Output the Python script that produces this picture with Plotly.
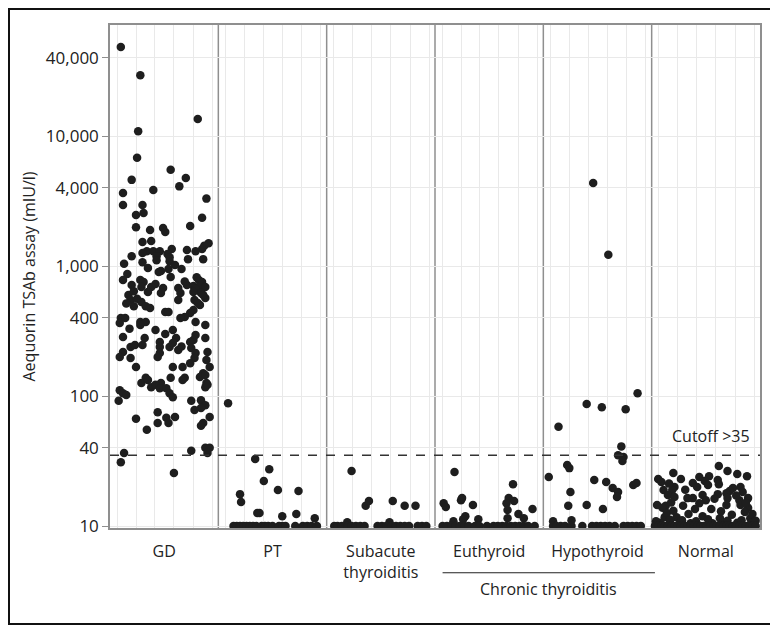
import plotly.graph_objects as go

# group labels on the x axis (centres at 0.5 ... 5.5)
categories = ["GD", "PT", "Subacute<br>thyroiditis", "Euthyroid", "Hypothyroid", "Normal"]

# (position inside the group 0..1, TSAb value in mIU/l)
gd_points = [
    (0.10, 48400), (0.28, 29400), (0.81, 13500), (0.26, 10900), (0.25, 6800),
    (0.56, 5500), (0.20, 4600), (0.70, 4750), (0.64, 4100), (0.12, 3650),
    (0.40, 3850), (0.89, 3300), (0.12, 2950), (0.30, 2950), (0.31, 2560),
    (0.24, 2470), (0.85, 2350), (0.24, 1990), (0.37, 1890), (0.49, 1960),
    (0.51, 1830), (0.74, 2030), (0.30, 1530), (0.38, 1560), (0.91, 1500),
    (0.87, 1430), (0.85, 1350), (0.57, 1350), (0.34, 1300), (0.40, 1300),
    (0.46, 1300), (0.53, 1240), (0.30, 1260), (0.20, 1190), (0.43, 1190),
    (0.71, 1330), (0.79, 1300), (0.55, 1170), (0.43, 1110), (0.72, 1130),
    (0.86, 1130), (0.55, 1090), (0.13, 1040), (0.30, 1070), (0.35, 966),
    (0.47, 916), (0.45, 899), (0.54, 948), (0.66, 948), (0.16, 868),
    (0.56, 822), (0.12, 780), (0.28, 780), (0.31, 753), (0.20, 714),
    (0.42, 727), (0.49, 677), (0.71, 714), (0.82, 780), (0.85, 753),
    (0.77, 702), (0.83, 702), (0.79, 665), (0.29, 689), (0.38, 689),
    (0.63, 677), (0.88, 689), (0.17, 598), (0.19, 548), (0.22, 490),
    (0.15, 515), (0.35, 631), (0.47, 620), (0.29, 528), (0.33, 490),
    (0.37, 475), (0.65, 620), (0.63, 548), (0.78, 548), (0.88, 567),
    (0.84, 620), (0.77, 631), (0.83, 501), (0.77, 459), (0.74, 435),
    (0.69, 405), (0.65, 398), (0.51, 443), (0.54, 443), (0.10, 398),
    (0.14, 398), (0.09, 364), (0.28, 371), (0.33, 371), (0.28, 352),
    (0.79, 371), (0.88, 352), (0.42, 322), (0.58, 322), (0.12, 284),
    (0.32, 279), (0.46, 260), (0.61, 279), (0.79, 295), (0.77, 270),
    (0.74, 260), (0.88, 279), (0.19, 238), (0.23, 247), (0.30, 247),
    (0.46, 238), (0.46, 214), (0.55, 238), (0.63, 226), (0.58, 256),
    (0.75, 234), (0.79, 214), (0.90, 218), (0.12, 218), (0.09, 200),
    (0.19, 196), (0.44, 200), (0.78, 196), (0.74, 179), (0.89, 189),
    (0.24, 167), (0.58, 167), (0.67, 167), (0.92, 167), (0.86, 150),
    (0.33, 138), (0.56, 138), (0.69, 138), (0.83, 140), (0.88, 145),
    (0.29, 126), (0.47, 126), (0.89, 126), (0.35, 133), (0.38, 117),
    (0.42, 122), (0.46, 115), (0.52, 115), (0.55, 105), (0.58, 98),
    (0.67, 133), (0.88, 117), (0.90, 122), (0.09, 111), (0.12, 105),
    (0.15, 102), (0.08, 92), (0.75, 92), (0.84, 93), (0.88, 85),
    (0.84, 81), (0.78, 78), (0.44, 75), (0.92, 69), (0.24, 67),
    (0.52, 68), (0.60, 69), (0.54, 62), (0.44, 62), (0.86, 62),
    (0.84, 59), (0.34, 55), (0.75, 38), (0.88, 40), (0.92, 40),
    (0.90, 36.5), (0.13, 36.5), (0.10, 31), (0.59, 25.6),
    (0.22, 640), (0.25, 560), (0.81, 520), (0.86, 600), (0.80, 820),
    (0.69, 760), (0.60, 1020), (0.18, 330), (0.51, 300), (0.66, 240),
]

pt_points = [
    (0.09, 88), (0.34, 32.8), (0.47, 27.4), (0.42, 22.2), (0.55, 18.9),
    (0.74, 18.6), (0.20, 17.6), (0.21, 15.3), (0.36, 12.6), (0.38, 12.6),
    (0.59, 11.9), (0.72, 12.4), (0.89, 11.5),
    (0.14, 10), (0.17, 10), (0.20, 10), (0.23, 10), (0.26, 10), (0.29, 10),
    (0.32, 10), (0.35, 10), (0.40, 10), (0.43, 10), (0.46, 10), (0.50, 10),
    (0.56, 10), (0.59, 10), (0.62, 10), (0.71, 10), (0.78, 10), (0.82, 10),
    (0.86, 10), (0.91, 10),
]

subacute_points = [
    (0.23, 26.5), (0.19, 10.7), (0.36, 14.3), (0.39, 15.6), (0.61, 15.6),
    (0.72, 14.3), (0.82, 14.3), (0.58, 10.7),
    (0.07, 10), (0.10, 10), (0.14, 10), (0.19, 10), (0.23, 10), (0.27, 10),
    (0.31, 10), (0.35, 10), (0.47, 10), (0.51, 10), (0.55, 10), (0.60, 10),
    (0.64, 10), (0.68, 10), (0.72, 10), (0.76, 10), (0.84, 10), (0.88, 10),
    (0.92, 10),
]

euthyroid_points = [
    (0.18, 26), (0.08, 15), (0.10, 14), (0.24, 15.8), (0.25, 16.4),
    (0.35, 14.5), (0.28, 11.9), (0.26, 11.3), (0.17, 10.9), (0.40, 11.3),
    (0.72, 21), (0.68, 16.4), (0.73, 15.6), (0.66, 15), (0.67, 13.3),
    (0.67, 11.5), (0.77, 12.4), (0.82, 11.5), (0.90, 13.5),
    (0.07, 10), (0.11, 10), (0.15, 10), (0.19, 10), (0.23, 10), (0.27, 10),
    (0.31, 10), (0.37, 10), (0.41, 10), (0.48, 10), (0.54, 10), (0.58, 10),
    (0.62, 10), (0.66, 10), (0.70, 10), (0.74, 10), (0.78, 10), (0.82, 10),
    (0.86, 10), (0.92, 10),
]

hypothyroid_points = [
    (0.46, 4350), (0.60, 1220), (0.87, 105), (0.40, 87), (0.54, 82),
    (0.76, 79), (0.14, 58), (0.72, 41), (0.69, 35), (0.74, 34),
    (0.73, 31.6), (0.22, 29.5), (0.24, 27.9), (0.05, 23.8), (0.47, 22.6),
    (0.58, 21.8), (0.64, 19.6), (0.69, 18.3), (0.68, 16.7), (0.83, 20.7),
    (0.86, 21.4), (0.25, 18.3), (0.23, 14.3), (0.40, 14.5), (0.55, 13.5),
    (0.09, 10.9), (0.26, 11.1),
    (0.09, 10), (0.12, 10), (0.16, 10), (0.20, 10), (0.26, 10), (0.36, 10),
    (0.45, 10), (0.49, 10), (0.53, 10), (0.57, 10), (0.61, 10), (0.66, 10),
    (0.74, 10), (0.78, 10), (0.82, 10), (0.86, 10), (0.90, 10),
]

normal_points = [
    (0.62, 29), (0.70, 26.5), (0.79, 25.1), (0.88, 24.2), (0.20, 25.6),
    (0.06, 23), (0.09, 21.8), (0.27, 23), (0.44, 23.8), (0.53, 24.2),
    (0.49, 22.2), (0.38, 21.4), (0.42, 20), (0.52, 20.7), (0.61, 22.6),
    (0.62, 21), (0.75, 19.6), (0.72, 18.6), (0.69, 17.9), (0.82, 20),
    (0.84, 18.3), (0.21, 20), (0.19, 18.9), (0.11, 18.9), (0.15, 17.3),
    (0.21, 16.7), (0.47, 17.3), (0.50, 15.8), (0.61, 17.6), (0.70, 16.4),
    (0.81, 15.8), (0.89, 16.4), (0.33, 16.4), (0.38, 16.4), (0.13, 14.3),
    (0.29, 14.3), (0.40, 13.5), (0.55, 13.5), (0.69, 14.5), (0.82, 14.5),
    (0.89, 13.8), (0.86, 12.8), (0.12, 11.7), (0.23, 11.7), (0.47, 11.9),
    (0.63, 11.5), (0.83, 11.1), (0.91, 11.5), (0.05, 14.5), (0.10, 13.8),
    (0.36, 10.5), (0.56, 10.5), (0.08, 10.6), (0.17, 10.6), (0.26, 10.6),
    (0.66, 10.6), (0.79, 10.6), (0.92, 10.6),
    (0.16, 21.2), (0.18, 15.2), (0.14, 12.6), (0.20, 13.1), (0.17, 11.2),
    (0.44, 15.0), (0.34, 12.4), (0.58, 16.2), (0.64, 13.0), (0.74, 12.2),
    (0.78, 17.2), (0.87, 15.1), (0.93, 12.4), (0.28, 11.1), (0.52, 11.3),
    (0.70, 11.0), (0.41, 10.9), (0.96, 11.0), (0.04, 10.9), (0.31, 19.0),
    (0.03, 10), (0.06, 10), (0.09, 10), (0.12, 10), (0.15, 10), (0.18, 10),
    (0.21, 10), (0.24, 10), (0.27, 10), (0.30, 10), (0.33, 10), (0.36, 10),
    (0.39, 10), (0.42, 10), (0.45, 10), (0.48, 10), (0.51, 10), (0.54, 10),
    (0.57, 10), (0.60, 10), (0.63, 10), (0.66, 10), (0.69, 10), (0.72, 10),
    (0.75, 10), (0.78, 10), (0.81, 10), (0.84, 10), (0.87, 10), (0.90, 10),
    (0.93, 10), (0.96, 10),
]

group_points = [gd_points, pt_points, subacute_points,
                euthyroid_points, hypothyroid_points, normal_points]

ytick_vals = [10, 40, 100, 400, 1000, 4000, 10000, 40000]
ytick_text = ["10", "40", "100", "400", "1,000", "4,000", "10,000", "40,000"]
cutoff = 35

# light vertical guide lines inside each group
guide_offsets = [0.065, 0.24, 0.415, 0.59, 0.77, 0.945]

xs, ys = [], []
for g, pts in enumerate(group_points):
    for off, val in pts:
        xs.append(g + off)
        ys.append(val)

fig = go.Figure()
fig.add_trace(go.Scatter(
    x=xs, y=ys, mode="markers",
    marker=dict(size=8.5, color="#1e1e1e", line=dict(width=0)),
    showlegend=False, hoverinfo="y",
))

# group separators
for g in range(1, len(categories)):
    fig.add_vline(x=g, line_color="#8f8f8f", line_width=1.5, layer="below")

fig.add_hline(y=cutoff, line_dash="dash", line_color="#333333", line_width=1.5)

fig.add_annotation(text="Cutoff >35", xref="paper", yref="paper", x=0.988, y=0.183,
                   xanchor="right", yanchor="middle", showarrow=False,
                   font=dict(size=16, color="#222"))

# "Chronic thyroiditis" bracket under Euthyroid + Hypothyroid
fig.add_shape(type="line", xref="x", yref="paper", x0=3.07, x1=5.03, y0=-0.089, y1=-0.089,
              line=dict(color="#222", width=1.2))
fig.add_annotation(text="Chronic thyroiditis", xref="x", yref="paper", x=4.05, y=-0.122,
                   xanchor="center", yanchor="middle", showarrow=False,
                   font=dict(size=16, color="#222"))

# the page body adds an 8px offset, so the figure is 8px smaller than the window
W, H = 770, 617
ml, mr, mt, mb = 102, 18, 17, 97
pw, ph = W - ml - mr, H - mt - mb
# outer frame around the whole figure
fig.add_shape(type="rect", xref="paper", yref="paper",
              x0=-(ml - 1) / pw, x1=1 + (mr - 1) / pw,
              y0=-(mb - 1) / ph, y1=1 + (mt - 1) / ph,
              line=dict(color="#111", width=2))

fig.update_layout(
    width=W, height=H,
    margin=dict(l=ml, r=mr, t=mt, b=mb),
    plot_bgcolor="white", paper_bgcolor="white",
    font=dict(family="Open Sans", size=16, color="#222"),
)
fig.update_xaxes(
    range=[0, 6],
    tickvals=[g + 0.5 for g in range(6)], ticktext=categories,
    showgrid=False, zeroline=False,
    ticks="outside", ticklen=8, tickcolor="rgba(0,0,0,0)",
    showline=True, mirror=True, linecolor="#8f8f8f", linewidth=1.5,
    minor=dict(tickvals=[g + o for g in range(6) for o in guide_offsets],
               showgrid=True, gridcolor="#e9e9e9", gridwidth=1),
    tickfont=dict(size=16),
)
fig.update_yaxes(
    type="log", range=[0.985, 4.854],
    tickvals=ytick_vals, ticktext=ytick_text,
    showgrid=True, gridcolor="#e9e9e9", zeroline=False,
    ticks="outside", ticklen=6, tickcolor="#8f8f8f",
    showline=True, mirror=True, linecolor="#8f8f8f", linewidth=1.5,
    title=dict(text="Aequorin TSAb assay (mIU/l)", standoff=6, font=dict(size=16)),
    tickfont=dict(size=17),
)

fig.write_html("out.html")
